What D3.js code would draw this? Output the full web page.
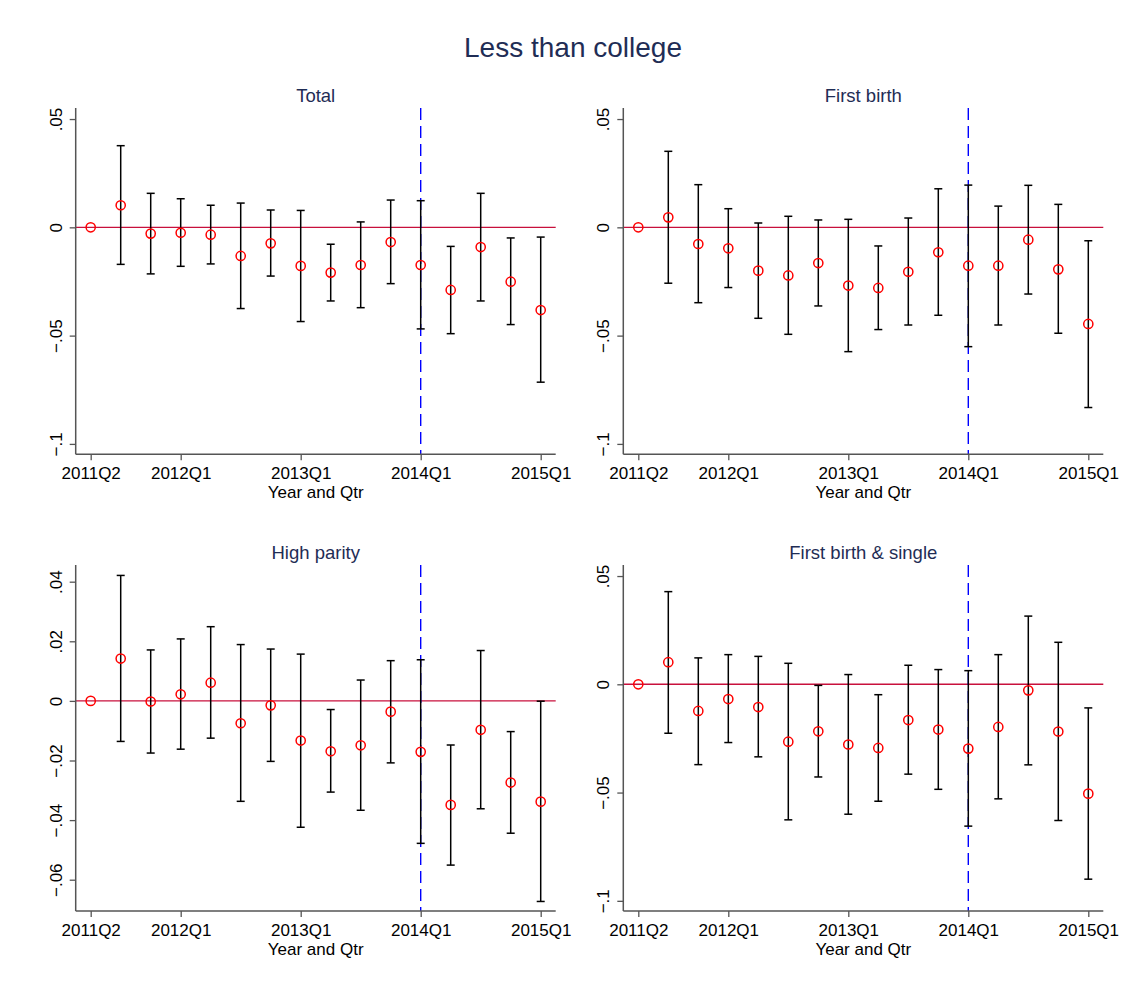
<!DOCTYPE html>
<html lang="en">
<head>
<meta charset="UTF-8">
<title>Less than college</title>
<script src="https://d3js.org/d3.v7.min.js"></script>
<style>
  body { margin: 0; background: #fff; }
  svg text { font-family: "Liberation Sans", Arial, Helvetica, sans-serif; }
</style>
</head>
<body>
<div id="chart"></div>
<script>
// quarters on the x axis (2011Q2 .. 2015Q1)
const quarters = ["2011Q2","2011Q3","2011Q4","2012Q1","2012Q2","2012Q3","2012Q4","2013Q1",
                  "2013Q2","2013Q3","2013Q4","2014Q1","2014Q2","2014Q3","2014Q4","2015Q1"];
const xTickLabels = ["2011Q2","2012Q1","2013Q1","2014Q1","2015Q1"];
const eventQuarter = "2014Q1";

// Total
const totalEst = [0, 0.0102, -0.0029, -0.0025, -0.0034, -0.0132, -0.0074, -0.0178, -0.0209, -0.0174, -0.0068, -0.0174, -0.0289, -0.0091, -0.0251, -0.0382];
const totalLo  = [null, -0.0171, -0.0215, -0.0180, -0.0169, -0.0375, -0.0225, -0.0435, -0.0340, -0.0371, -0.0260, -0.0469, -0.0491, -0.0340, -0.0449, -0.0715];
const totalHi  = [null, 0.0377, 0.0157, 0.0132, 0.0102, 0.0112, 0.0080, 0.0078, -0.0078, 0.0025, 0.0126, 0.0123, -0.0088, 0.0157, -0.0049, -0.0045];

// First birth
const firstEst = [0, 0.0046, -0.0077, -0.0097, -0.0200, -0.0222, -0.0165, -0.0269, -0.0280, -0.0205, -0.0115, -0.0177, -0.0177, -0.0057, -0.0194, -0.0446];
const firstLo  = [null, -0.0258, -0.0348, -0.0278, -0.0420, -0.0494, -0.0363, -0.0574, -0.0472, -0.0451, -0.0406, -0.0551, -0.0451, -0.0308, -0.0489, -0.0832];
const firstHi  = [null, 0.0351, 0.0197, 0.0086, 0.0020, 0.0051, 0.0034, 0.0037, -0.0086, 0.0043, 0.0178, 0.0195, 0.0098, 0.0194, 0.0106, -0.0062];

// High parity
const highEst = [0, 0.0142, -0.0002, 0.0022, 0.0061, -0.0075, -0.0015, -0.0133, -0.0169, -0.0149, -0.0036, -0.0171, -0.0349, -0.0097, -0.0274, -0.0338];
const highLo  = [null, -0.0136, -0.0175, -0.0162, -0.0125, -0.0337, -0.0203, -0.0424, -0.0306, -0.0367, -0.0208, -0.0478, -0.0551, -0.0362, -0.0444, -0.0673];
const highHi  = [null, 0.0421, 0.0171, 0.0208, 0.0249, 0.0189, 0.0174, 0.0157, -0.0029, 0.0070, 0.0135, 0.0138, -0.0148, 0.0169, -0.0103, -0.0001];

// First birth & single
const singleEst = [0, 0.0102, -0.0123, -0.0068, -0.0105, -0.0265, -0.0217, -0.0278, -0.0294, -0.0165, -0.0209, -0.0297, -0.0197, -0.0028, -0.0218, -0.0505];
const singleLo  = [null, -0.0226, -0.0371, -0.0269, -0.0335, -0.0626, -0.0428, -0.0600, -0.0540, -0.0415, -0.0485, -0.0655, -0.0529, -0.0372, -0.0629, -0.0900];
const singleHi  = [null, 0.0428, 0.0122, 0.0137, 0.0129, 0.0097, -0.0005, 0.0045, -0.0048, 0.0088, 0.0068, 0.0063, 0.0137, 0.0315, 0.0194, -0.0109];

const panelTitles = ["Total", "First birth", "High parity", "First birth & single"];
const yTicksTop = [0.05, 0, -0.05, -0.1];
const yTicksHigh = [0.04, 0.02, 0, -0.02, -0.04, -0.06];

const W = 1144, H = 994;
const svg = d3.select("#chart").append("svg")
  .attr("width", W).attr("height", H)
  .style("background", "#fff");

svg.append("text")
  .attr("x", 573).attr("y", 56.5)
  .attr("text-anchor", "middle")
  .attr("font-size", 28)
  .attr("fill", "#1f2d55")
  .text("Less than college");

function fmt(v) {
  if (v === 0) return "0";
  return d3.format("")(+v.toFixed(2)).replace("0.", ".");
}

const panels = [
  { title: panelTitles[0], est: totalEst, lo: totalLo, hi: totalHi, x0: 75.7, x1: 555.7, y0: 108, y1: 454.3, dom: [-0.1048, 0.0551], ticks: yTicksTop },
  { title: panelTitles[1], est: firstEst, lo: firstLo, hi: firstHi, x0: 623.3, x1: 1103.3, y0: 108, y1: 454.3, dom: [-0.1048, 0.0551], ticks: yTicksTop },
  { title: panelTitles[2], est: highEst, lo: highLo, hi: highHi, x0: 75.7, x1: 555.7, y0: 565, y1: 911, dom: [-0.0705, 0.0456], ticks: yTicksHigh },
  { title: panelTitles[3], est: singleEst, lo: singleLo, hi: singleHi, x0: 623.3, x1: 1103.3, y0: 565, y1: 911, dom: [-0.1047, 0.0551], ticks: yTicksTop }
];

panels.forEach(p => {
  const data = quarters.map((q, i) => ({ q: q, i: i, est: p.est[i], lo: p.lo[i], hi: p.hi[i] }));

  const x = d3.scaleLinear().domain([-0.5, quarters.length - 0.5]).range([p.x0, p.x1]);
  const y = d3.scaleLinear().domain(p.dom).range([p.y1, p.y0]);
  const g = svg.append("g");

  // panel title
  g.append("text")
    .attr("x", (p.x0 + p.x1) / 2).attr("y", p.y0 - 6.5)
    .attr("text-anchor", "middle")
    .attr("font-size", 18.5)
    .attr("fill", "#1f2d55")
    .text(p.title);

  // zero line
  g.append("line")
    .attr("x1", p.x0).attr("x2", p.x1)
    .attr("y1", y(0)).attr("y2", y(0))
    .attr("stroke", "#c8103c").attr("stroke-width", 1.4);

  // policy line
  const ev = quarters.indexOf(eventQuarter);
  g.append("line")
    .attr("x1", x(ev)).attr("x2", x(ev))
    .attr("y1", p.y0).attr("y2", p.y1)
    .attr("stroke", "#0000ff").attr("stroke-width", 1.4)
    .attr("stroke-dasharray", "12,6");

  // error bars
  const ci = data.filter(d => d.lo !== null);
  g.selectAll(".bar").data(ci).enter().append("line")
    .attr("x1", d => x(d.i)).attr("x2", d => x(d.i))
    .attr("y1", d => y(d.lo)).attr("y2", d => y(d.hi))
    .attr("stroke", "#000").attr("stroke-width", 1.5);
  ["lo", "hi"].forEach(k => {
    g.selectAll(".cap-" + k).data(ci).enter().append("line")
      .attr("x1", d => x(d.i) - 4).attr("x2", d => x(d.i) + 4)
      .attr("y1", d => y(d[k])).attr("y2", d => y(d[k]))
      .attr("stroke", "#000").attr("stroke-width", 1.5);
  });

  // point estimates
  g.selectAll("circle").data(data).enter().append("circle")
    .attr("cx", d => x(d.i)).attr("cy", d => y(d.est))
    .attr("r", 4.6)
    .attr("fill", "none").attr("stroke", "#ff0000").attr("stroke-width", 1.5);

  // y axis
  const yAxis = d3.axisLeft(y).tickValues(p.ticks).tickSize(6).tickFormat(fmt);
  const ya = g.append("g").attr("transform", `translate(${p.x0},0)`).call(yAxis);
  ya.select(".domain").attr("stroke", "#555").attr("stroke-width", 1.5).attr("d", `M0,${p.y0}V${p.y1}`);
  ya.selectAll(".tick line").attr("stroke", "#555").attr("stroke-width", 1.3);
  ya.selectAll(".tick text")
    .attr("font-size", 17)
    .attr("fill", "#000")
    .attr("x", 0).attr("y", 0).attr("dy", 0)
    .attr("text-anchor", "middle")
    .attr("transform", "translate(-14,0) rotate(-90)");

  // x axis
  const xAxis = d3.axisBottom(x)
    .tickValues(xTickLabels.map(q => quarters.indexOf(q)))
    .tickSize(6)
    .tickFormat(i => quarters[i]);
  const xa = g.append("g").attr("transform", `translate(0,${p.y1})`).call(xAxis);
  xa.select(".domain").attr("stroke", "#555").attr("stroke-width", 1.5).attr("d", `M${p.x0},0H${p.x1}`);
  xa.selectAll(".tick line").attr("stroke", "#555").attr("stroke-width", 1.3);
  xa.selectAll(".tick text")
    .attr("font-size", 17)
    .attr("fill", "#000")
    .attr("y", 24.5).attr("dy", 0);

  g.append("text")
    .attr("x", (p.x0 + p.x1) / 2).attr("y", p.y1 + 43.5)
    .attr("text-anchor", "middle")
    .attr("font-size", 17)
    .attr("fill", "#000")
    .text("Year and Qtr");
});
</script>
</body>
</html>
